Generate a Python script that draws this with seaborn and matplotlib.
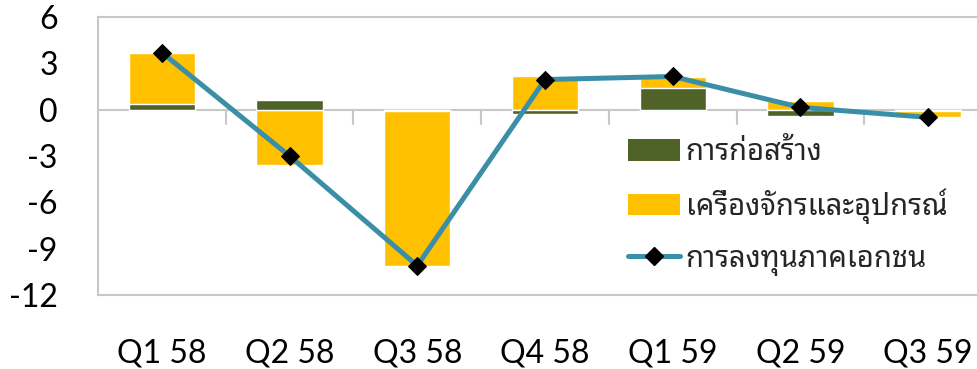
import numpy as np
import pandas as pd
import matplotlib
matplotlib.use("Agg")
import matplotlib.pyplot as plt
from matplotlib.patches import Patch
from matplotlib.lines import Line2D
import seaborn as sns

# Contributions to private investment growth (percentage points)
quarters = ["Q1 58", "Q2 58", "Q3 58", "Q4 58", "Q1 59", "Q2 59", "Q3 59"]
construction = [0.35, 0.6, -0.1, -0.25, 1.4, -0.4, -0.1]
machinery = [3.3, -3.6, -10.0, 2.2, 0.7, 0.55, -0.37]
private_investment = [3.7, -3.0, -10.1, 1.95, 2.15, 0.15, -0.5]

labels = ["การก่อสร้าง", "เครื่องจักรและอุปกรณ์", "การลงทุนภาคเอกชน"]
yticks = [6, 3, 0, -3, -6, -9, -12]

GREEN = "#4F6228"
YELLOW = "#FFC000"
TEAL = "#3A8FA7"
GRID = "#C8C8C8"

sns.set_theme(style="white")
plt.rcParams["font.family"] = ["Lato", "Noto Sans Thai Looped", "DejaVu Sans"]

c = np.array(construction)
m = np.array(machinery)
# Excel-style stacking: same-sign parts stack, opposite signs start from zero
machinery_end = np.where(np.sign(c) == np.sign(m), c + m, m)

df = pd.DataFrame({"quarter": quarters, "construction": c,
                   "machinery_end": machinery_end, "total": private_investment})

fig = plt.figure(figsize=(9.78, 3.69), dpi=100)
ax = fig.add_axes([98 / 978, 74 / 369, 894 / 978, 278 / 369])

sns.barplot(data=df, x="quarter", y="machinery_end", color=YELLOW,
            width=0.52, saturation=1, ax=ax, zorder=2)
sns.barplot(data=df, x="quarter", y="construction", color=GREEN,
            width=0.52, saturation=1, ax=ax, zorder=3)
sns.lineplot(x=np.arange(len(quarters)), y=df["total"], color=TEAL,
             linewidth=3.6, marker="D", markersize=9, markerfacecolor="black",
             markeredgecolor="black", ax=ax, zorder=4)

ax.set_xlim(-0.5, len(quarters) - 0.5)
ax.set_ylim(-12, 6)
ax.set_yticks(yticks)
ax.set_yticklabels([str(v) for v in yticks])
ax.set_xlabel("")
ax.set_ylabel("")

for s in ax.spines.values():
    s.set_color(GRID)
    s.set_linewidth(1.5)

# zero axis with category boundary ticks
ax.axhline(0, color=GRID, linewidth=1.5, zorder=1)
for b in np.arange(0.5, len(quarters) - 0.5, 1.0):
    ax.plot([b, b], [0, -0.9], color=GRID, linewidth=1.5, zorder=1, clip_on=False)

ax.tick_params(axis="y", length=0, pad=29, labelsize=23, colors="black")
ax.tick_params(axis="x", length=0, pad=31, labelsize=23, colors="black")
for t in ax.get_yticklabels():
    t.set_horizontalalignment("right")

handles = [
    Patch(facecolor=GREEN, edgecolor="none"),
    Patch(facecolor=YELLOW, edgecolor="none"),
    Line2D([0], [0], color=TEAL, linewidth=3.6, marker="D", markersize=9,
           markerfacecolor="black", markeredgecolor="black"),
]
leg = ax.legend(handles, labels, loc="upper left",
                bbox_to_anchor=(628 / 978, 231 / 369), bbox_transform=fig.transFigure,
                frameon=False, fontsize=21, handlelength=1.78, handleheight=0.75,
                handletextpad=0.2, labelspacing=0.72, borderpad=0, borderaxespad=0)
for t in leg.get_texts():
    t.set_family(["Noto Sans Thai Looped", "DejaVu Sans"])

fig.savefig("out.png", dpi=100)
